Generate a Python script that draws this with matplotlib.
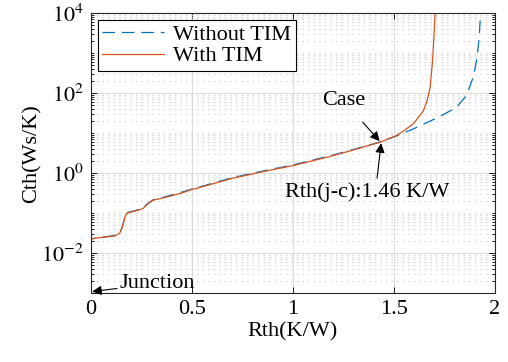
import matplotlib
matplotlib.use('Agg')
import matplotlib.pyplot as plt
import numpy as np
from matplotlib.ticker import LogLocator, FixedLocator, NullFormatter

plt.rcParams['font.family'] = ['Liberation Serif', 'DejaVu Serif']
plt.rcParams['mathtext.fontset'] = 'stix'
plt.rcParams['lines.scale_dashes'] = False

# 数据
rth_tim = [0.0, 0.0, 0.003, 0.06, 0.119, 0.143, 0.152, 0.160, 0.168, 0.177, 0.193,
           0.225, 0.257, 0.282, 0.307, 0.366, 0.45, 0.5, 0.54, 0.614, 0.70, 0.837,
           1.0, 1.183, 1.30, 1.431, 1.513, 1.55, 1.596, 1.62, 1.646, 1.665, 1.68,
           1.692, 1.70, 1.705]
cth_tim = [0.0005, 0.01, 0.023, 0.025, 0.027, 0.032, 0.04, 0.055, 0.078, 0.098, 0.105,
           0.115, 0.13, 0.17, 0.21, 0.245, 0.32, 0.39, 0.44, 0.56, 0.74, 1.05,
           1.54, 2.6, 3.8, 5.9, 8.7, 11.5, 17, 24, 36, 65, 140,
           650, 3600, 12000]

rth_no = [0.0, 0.0, 0.003, 0.06, 0.119, 0.143, 0.152, 0.160, 0.168, 0.177, 0.193,
          0.225, 0.257, 0.282, 0.307, 0.366, 0.45, 0.5, 0.54, 0.614, 0.70, 0.837,
          1.0, 1.183, 1.30, 1.431, 1.513, 1.596, 1.728, 1.81, 1.86, 1.893, 1.91,
          1.923, 1.93]
cth_no = [0.0005, 0.01, 0.023, 0.025, 0.028, 0.033, 0.041, 0.056, 0.079, 0.1, 0.108,
          0.118, 0.135, 0.176, 0.215, 0.255, 0.335, 0.4, 0.455, 0.58, 0.77, 1.09,
          1.6, 2.7, 3.9, 6.0, 8.5, 12.7, 26, 44, 87, 250, 650,
          2500, 12000]

fs = 16

fig = plt.figure(figsize=(5.08, 3.62), dpi=100)
ax = fig.add_axes([0.179, 0.19, 0.795, 0.774])

ax.plot(rth_no, cth_no, color='#0072BD', lw=0.9, dashes=(9, 5), label='Without TIM')
ax.plot(rth_tim, cth_tim, color='#D95319', lw=0.9, label='With TIM')

ax.set_yscale('log')
ax.set_xlim(0, 2)
ax.set_ylim(1e-3, 1e4)
ax.set_xticks([0, 0.5, 1, 1.5, 2])
ax.set_xticklabels(['0', '0.5', '1', '1.5', '2'])
ax.yaxis.set_major_locator(FixedLocator([1e-2, 1e0, 1e2, 1e4]))
ax.set_yticklabels([r'$10^{-2}$', r'$10^{0}$', r'$10^{2}$', r'$10^{4}$'])
ax.yaxis.set_minor_locator(LogLocator(base=10, subs=np.arange(1, 10), numticks=20))
ax.yaxis.set_minor_formatter(NullFormatter())

ax.tick_params(which='both', direction='in', top=True, right=True, labelsize=fs, width=0.6)
ax.tick_params(which='major', length=4, pad=5)
ax.tick_params(which='minor', length=2.5)

ax.grid(which='major', color='#dcdcdc', lw=0.8, ls='-')
ax.grid(which='minor', axis='y', color='#cfcfcf', lw=0.8, ls=(0, (1, 3)))
ax.set_axisbelow(True)
for s in ax.spines.values():
    s.set_linewidth(0.8)
    s.set_color('#262626')

ax.set_xlabel('Rth(K/W)', fontsize=fs, labelpad=2)
ax.set_ylabel('Cth(Ws/K)', fontsize=fs, labelpad=0)

leg = ax.legend(loc='upper left', fontsize=fs, fancybox=False, edgecolor='black',
                framealpha=1, handlelength=2.8, borderaxespad=0.3,
                borderpad=0.2, labelspacing=0.05, handletextpad=0.4)
leg.get_frame().set_linewidth(0.8)

arrow = dict(arrowstyle='-|>', color='black', lw=0.8, mutation_scale=14, shrinkA=0, shrinkB=0)
ax.annotate('Case', xy=(1.43, 6.3), xytext=(1.25, 65), fontsize=fs,
            ha='center', va='center', arrowprops=dict(arrow, shrinkA=9))
ax.annotate('', xy=(1.437, 5.6), xytext=(1.417, 0.75), arrowprops=arrow)
ax.text(1.366, 0.33, 'Rth(j-c):1.46 K/W', fontsize=fs, ha='center', va='center')
ax.annotate('Junction', xy=(0.006, 1.1e-3), xytext=(0.143, 1.75e-3), fontsize=fs,
            ha='left', va='center', arrowprops=arrow)

fig.savefig('out.png', dpi=100)
